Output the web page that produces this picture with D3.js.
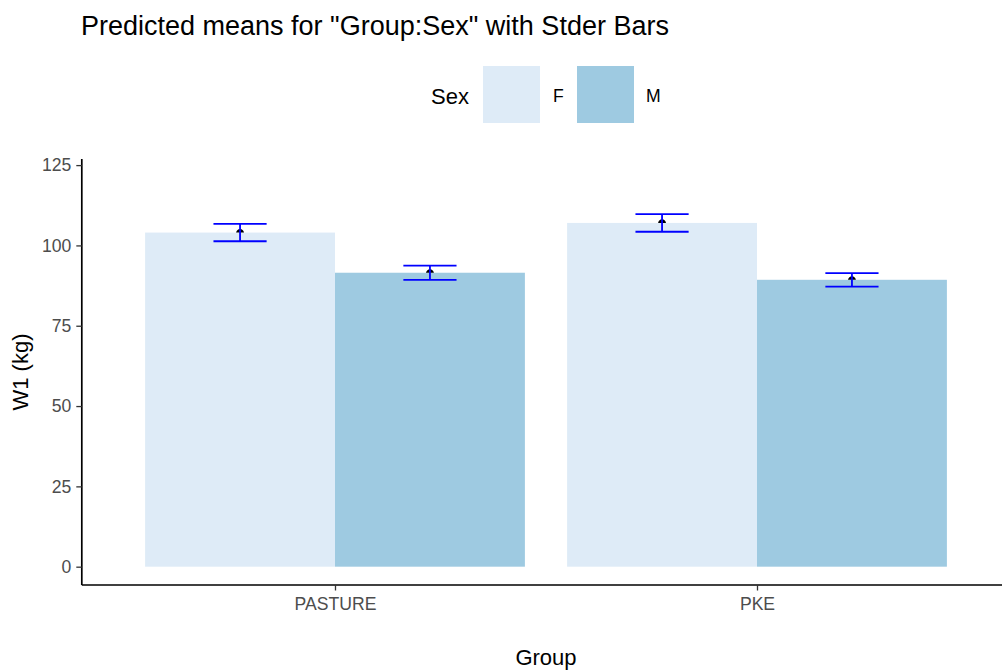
<!DOCTYPE html>
<html>
<head>
<meta charset="utf-8">
<script src="https://cdn.jsdelivr.net/npm/d3@7"></script>
<style>
  html, body { margin: 0; padding: 0; background: #fff; }
  svg { display: block; font-family: "Liberation Sans", Arial, sans-serif; }
</style>
</head>
<body>
<svg id="chart" width="1002" height="671"></svg>
<script>
// Predicted means of W1 by Group and Sex, with standard errors
const groups = ["PASTURE", "PKE"];
const sexes = ["F", "M"];
const meansF = [104.0, 107.0];
const meansM = [91.5, 89.3];
const stderF = [2.7, 2.75];
const stderM = [2.2, 2.1];
const yTicks = [0, 25, 50, 75, 100, 125];
const sexColors = ["#deebf7", "#9ecae1"];

const rows = [];
groups.forEach((g, i) => {
  rows.push({ group: g, sex: "F", mean: meansF[i], se: stderF[i] });
  rows.push({ group: g, sex: "M", mean: meansM[i], se: stderM[i] });
});

const svg = d3.select("#chart");
const W = 1002, H = 671;
const panel = { left: 81.8, right: 1010.2, top: 159, bottom: 585 };

const x = d3.scalePoint().domain(groups).range([panel.left, panel.right]).padding(0.6);
const barWidth = x.step() * 0.9;
const xSex = d3.scaleBand().domain(sexes).range([-barWidth / 2, barWidth / 2]);
const y = d3.scaleLinear().domain([-5.7, 126.9]).range([panel.bottom, panel.top]);
const color = d3.scaleOrdinal().domain(sexes).range(sexColors);

// bars
svg.append("g").selectAll("rect").data(rows).join("rect")
  .attr("x", d => x(d.group) + xSex(d.sex))
  .attr("y", d => y(d.mean))
  .attr("width", xSex.bandwidth())
  .attr("height", d => y(0) - y(d.mean))
  .attr("fill", d => color(d.sex));

// mean markers (small black arrowheads)
svg.append("g").selectAll("path").data(rows).join("path")
  .attr("d", d => {
    const cx = x(d.group) + xSex(d.sex) + xSex.bandwidth() / 2;
    const cy = y(d.mean);
    return `M${cx - 4},${cy} Q${cx - 3},${cy - 3.5} ${cx},${cy - 3.6} Q${cx + 3},${cy - 3.5} ${cx + 4},${cy} Z`;
  })
  .attr("fill", "#000");

// standard error bars
const capHalf = xSex.bandwidth() * 0.14;
const eb = svg.append("g").attr("stroke", "#0000ff").attr("stroke-width", 1.8).attr("fill", "none");
rows.forEach(d => {
  const cx = x(d.group) + xSex(d.sex) + xSex.bandwidth() / 2;
  const lo = y(d.mean - d.se), hi = y(d.mean + d.se);
  eb.append("line").attr("x1", cx).attr("x2", cx).attr("y1", lo).attr("y2", hi);
  eb.append("line").attr("x1", cx - capHalf).attr("x2", cx + capHalf).attr("y1", hi).attr("y2", hi);
  eb.append("line").attr("x1", cx - capHalf).attr("x2", cx + capHalf).attr("y1", lo).attr("y2", lo);
});

// axes
const yAxis = svg.append("g").attr("transform", `translate(${panel.left},0)`)
  .call(d3.axisLeft(y).tickValues(yTicks).tickSize(5.5).tickPadding(5));
const xAxis = svg.append("g").attr("transform", `translate(0,${panel.bottom})`)
  .call(d3.axisBottom(x).tickSize(5.5).tickPadding(7.5));

[yAxis, xAxis].forEach(a => {
  a.select(".domain").attr("stroke", "#000").attr("stroke-width", 1.7);
  a.selectAll(".tick line").attr("stroke", "#333").attr("stroke-width", 1.3);
  a.selectAll(".tick text").attr("fill", "#4d4d4d").style("font-size", "17.6px")
    .style("font-family", "'Liberation Sans', Arial, sans-serif");
});
yAxis.select(".domain").attr("d", `M0,${panel.top}V${panel.bottom}`);
xAxis.select(".domain").attr("d", `M${panel.left},0H${W}`);

// axis titles
svg.append("text").attr("x", 546).attr("y", 665)
  .attr("text-anchor", "middle").style("font-size", "22px").attr("fill", "#000").text("Group");
svg.append("text").attr("transform", `translate(28,${(panel.top + panel.bottom) / 2}) rotate(-90)`)
  .attr("text-anchor", "middle").style("font-size", "22px").attr("fill", "#000").text("W1 (kg)");

// title
svg.append("text").attr("x", 81).attr("y", 35).style("font-size", "27px").attr("fill", "#000")
  .text('Predicted means for "Group:Sex" with Stder Bars');

// legend
const legend = svg.append("g");
legend.append("text").attr("x", 431).attr("y", 104).style("font-size", "22px").attr("fill", "#000").text("Sex");
const keyX = [483, 577];
const labX = [553, 646];
sexes.forEach((s, i) => {
  legend.append("rect").attr("x", keyX[i]).attr("y", 66).attr("width", 57).attr("height", 57)
    .attr("fill", color(s));
  legend.append("text").attr("x", labX[i]).attr("y", 101.5).style("font-size", "17.6px")
    .attr("fill", "#000").text(s);
});
</script>
</body>
</html>
